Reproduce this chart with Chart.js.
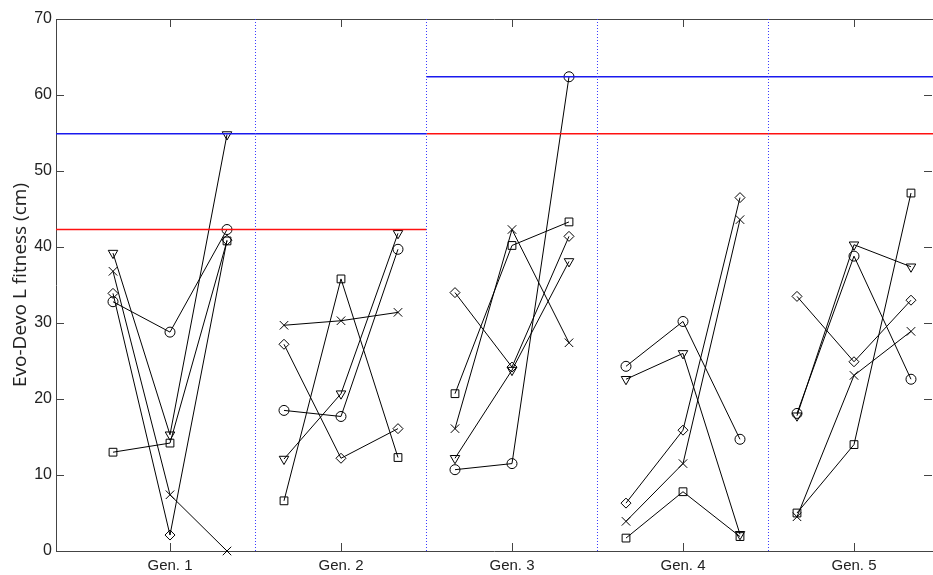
<!DOCTYPE html>
<html>
<head>
<meta charset="utf-8">
<script src="https://cdn.jsdelivr.net/npm/chart.js@4/dist/chart.umd.min.js"></script>
<style>
  html, body { margin: 0; padding: 0; background: #fff; }
  #wrap { width: 933px; height: 575px; }
</style>
</head>
<body>
<div id="wrap"><canvas id="grafica"></canvas></div>
<script>
// generations and the three sub positions inside each one
const gens = ['Gen. 1', 'Gen. 2', 'Gen. 3', 'Gen. 4', 'Gen. 5'];
const offsets = [-1 / 3, 0, 1 / 3];

// values, 3 per generation
const circleVals   = [32.8, 28.8, 42.3, 18.5, 17.7, 39.7, 10.7, 11.5, 62.4, 24.3, 30.2, 14.7, 18.1, 38.8, 22.6];
const squareVals   = [13.0, 14.2, 40.8, 6.6, 35.8, 12.3, 20.7, 40.2, 43.3, 1.7, 7.8, 1.9, 5.0, 14.0, 47.1];
const diamondVals  = [33.9, 2.1, 40.9, 27.2, 12.2, 16.1, 34.0, 24.2, 41.4, 6.3, 15.9, 46.5, 33.5, 24.9, 33.0];
const triangleVals = [39.2, 15.3, 54.8, 12.1, 20.7, 41.8, 12.2, 23.8, 38.1, 22.6, 26.0, 2.2, 17.8, 40.3, 37.4];
const crossVals    = [36.8, 7.4, 0.0, 29.7, 30.3, 31.4, 16.1, 42.3, 27.4, 3.9, 11.5, 43.6, 4.5, 23.1, 28.9];

// horizontal reference lines: before / after the Gen.2|Gen.3 split
const redLevels  = [42.3, 54.9];
const blueLevels = [54.9, 62.4];
const splitAt = 2.5;

const yTicks = [0, 10, 20, 30, 40, 50, 60, 70];
const xMin = 1 / 3, xMax = 5.462;

// builds points with a gap between generations
function toPoints(vals) {
    const pts = [];
    gens.forEach((g, i) => {
        offsets.forEach((o, k) => {
            pts.push({ x: i + 1 + o, y: vals[i * 3 + k] });
        });
        pts.push({ x: i + 1.5, y: null });
    });
    return pts;
}

function serie(vals, style, rot, radius) {
    return {
        data: toPoints(vals),
        borderColor: '#000',
        borderWidth: 1,
        pointStyle: style,
        pointRotation: rot,
        pointRadius: radius,
        pointBorderColor: '#000',
        pointBorderWidth: 1,
        pointBackgroundColor: 'rgba(0,0,0,0)',
        tension: 0,
        spanGaps: false,
        clip: false
    };
}

function levelLine(levels, color) {
    return {
        data: [
            { x: xMin, y: levels[0] }, { x: splitAt, y: levels[0] }, { x: splitAt, y: null },
            { x: splitAt, y: levels[1] }, { x: xMax, y: levels[1] }
        ],
        borderColor: color,
        borderWidth: 1.5,
        pointRadius: 0,
        spanGaps: false
    };
}

// dotted separators between generations
const sepPts = [];
for (let i = 1; i < gens.length; i++) {
    sepPts.push({ x: i + 0.5, y: yTicks[0] }, { x: i + 0.5, y: yTicks[yTicks.length - 1] }, { x: i + 0.5, y: null });
}

const datasets = [
    {
        data: sepPts, borderColor: '#3a3aff', borderWidth: 1, borderDash: [1, 2],
        pointRadius: 0, spanGaps: false
    },
    levelLine(redLevels, '#ff1010'),
    levelLine(blueLevels, '#1a1aee'),
    serie(circleVals, 'circle', 0, 5),
    serie(squareVals, 'rect', 0, 5.5),
    serie(diamondVals, 'rectRot', 0, 5),
    serie(triangleVals, 'triangle', 180, 5.5),
    serie(crossVals, 'crossRot', 0, 6)
];

// frame with inward ticks, matlab style
const marco = {
    id: 'marco',
    beforeDatasetsDraw(chart) {
        const { ctx, chartArea: a, scales } = chart;
        const len = 8;
        ctx.save();
        ctx.strokeStyle = '#444';
        ctx.lineWidth = 1;
        ctx.beginPath();
        ctx.moveTo(a.left + 0.5, a.bottom + 0.5);
        ctx.lineTo(a.left + 0.5, a.top + 0.5);
        ctx.lineTo(a.right, a.top + 0.5);
        ctx.moveTo(a.left, a.bottom + 0.5);
        ctx.lineTo(a.right, a.bottom + 0.5);
        yTicks.forEach(v => {
            const y = Math.round(scales.y.getPixelForValue(v)) + 0.5;
            ctx.moveTo(a.left, y); ctx.lineTo(a.left + len, y);
            ctx.moveTo(a.right - 1, y); ctx.lineTo(a.right - 1 - len, y);
        });
        gens.forEach((g, i) => {
            const x = Math.round(scales.x.getPixelForValue(i + 1)) + 0.5;
            ctx.moveTo(x, a.bottom); ctx.lineTo(x, a.bottom - len);
            ctx.moveTo(x, a.top); ctx.lineTo(x, a.top + len);
        });
        ctx.stroke();
        ctx.restore();
    }
};

new Chart(document.getElementById('grafica'), {
    type: 'line',
    data: { datasets: datasets },
    options: {
        responsive: true,
        maintainAspectRatio: false,
        animation: false,
        layout: { autoPadding: false, padding: { top: 19, right: 0, left: 0, bottom: 0 } },
        plugins: { legend: { display: false }, tooltip: { enabled: false } },
        scales: {
            x: {
                type: 'linear',
                min: xMin,
                max: xMax,
                grid: { display: false, drawTicks: false },
                border: { display: false },
                afterBuildTicks: scale => { scale.ticks = gens.map((g, i) => ({ value: i + 1 })); },
                afterFit: scale => {
                    scale.height = 24;
                    scale.paddingRight = 0;
                    scale.paddingLeft = 0;
                },
                ticks: {
                    callback: v => gens[v - 1],
                    color: '#222',
                    padding: 6,
                    maxRotation: 0,
                    font: { family: 'Liberation Sans', size: 15 }
                }
            },
            y: {
                min: 0,
                max: 70,
                grid: { display: false, drawTicks: false },
                border: { display: false },
                afterBuildTicks: scale => { scale.ticks = yTicks.map(v => ({ value: v })); },
                afterFit: scale => { scale.width = 56; },
                ticks: {
                    color: '#222',
                    padding: 4,
                    font: { family: 'Liberation Sans', size: 16 }
                },
                title: {
                    display: true,
                    text: 'Evo-Devo L fitness (cm)',
                    color: '#222',
                    padding: { top: 9, bottom: 0 },
                    font: { family: 'Open Sans', size: 19 }
                }
            }
        }
    },
    plugins: [marco]
});
</script>
</body>
</html>
